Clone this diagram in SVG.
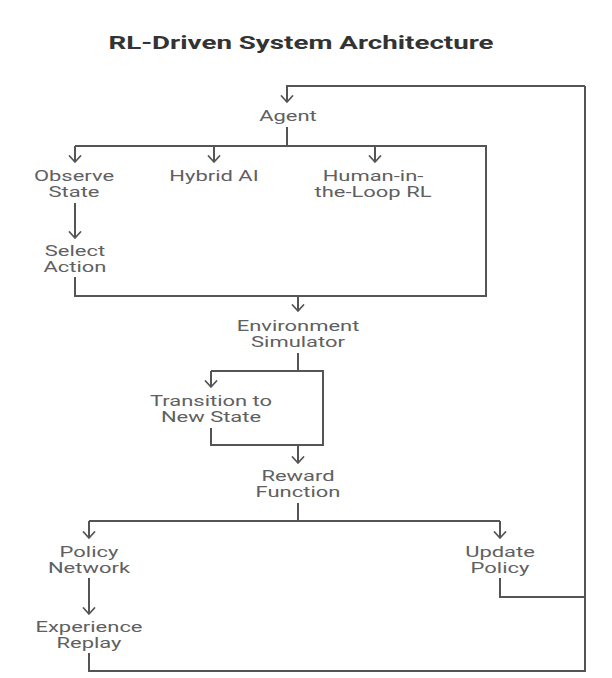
<svg xmlns="http://www.w3.org/2000/svg" width="612" height="678" viewBox="0 0 612 678">
<defs>
<marker id="arr" markerUnits="userSpaceOnUse" viewBox="-8 -7 10 14" refX="0" refY="0" markerWidth="10" markerHeight="14" orient="auto">
<path d="M-6,-5.5 L0,0 L-6,5.5" fill="none" stroke="#555" stroke-width="1.8" stroke-linecap="round" stroke-linejoin="round"/>
</marker>
</defs>
<style>
.t{font-family:Roboto,"Liberation Sans",sans-serif;font-size:14px;fill:#606060;text-anchor:middle}
.ttl{font-family:Roboto,"Liberation Sans",sans-serif;font-size:18px;font-weight:bold;fill:#333;text-anchor:middle}
.c{fill:none;stroke:#555;stroke-width:2}
.a{marker-end:url(#arr)}
</style>
<rect width="612" height="678" fill="#fff"/>
<text class="ttl" transform="translate(301,0) scale(1.54,1)" x="0" y="49">RL-Driven System Architecture</text>
<g id="connectors">
<path class="c a" d="M585,86 H287 V102"/>
<path class="c" d="M287,127 V146"/>
<path class="c" d="M75,146 H486 V296 H75 V277"/>
<path class="c a" d="M75,146 V162"/>
<path class="c a" d="M214,146 V162"/>
<path class="c a" d="M375,146 V162"/>
<path class="c a" d="M75,203 V238"/>
<path class="c a" d="M298,296 V311"/>
<path class="c" d="M298,353 V371"/>
<path class="c" d="M211,371 H323 V445 H211 V428"/>
<path class="c a" d="M211,371 V387"/>
<path class="c a" d="M298,445 V463"/>
<path class="c" d="M298,503 V521"/>
<path class="c" d="M89,521 H500"/>
<path class="c a" d="M89,521 V538"/>
<path class="c a" d="M500,521 V538"/>
<path class="c" d="M500,578 V597 H585"/>
<path class="c a" d="M89,578 V614"/>
<path class="c" d="M89,653 V671 H585 V86"/>
</g>
<g id="agent"><text class="t" transform="translate(288,0) scale(1.57,1)" x="0" y="121">Agent</text></g>
<g id="observe-state"><text class="t" transform="translate(74,0) scale(1.57,1)" x="0" y="181">Observe<tspan x="0" dy="16">State</tspan></text></g>
<g id="hybrid-ai"><text class="t" transform="translate(214,0) scale(1.57,1)" x="0" y="181">Hybrid AI</text></g>
<g id="human-in-the-loop"><text class="t" transform="translate(373,0) scale(1.57,1)" x="0" y="181">Human-in-<tspan x="0" dy="16">the-Loop RL</tspan></text></g>
<g id="select-action"><text class="t" transform="translate(75,0) scale(1.57,1)" x="0" y="256">Select<tspan x="0" dy="16">Action</tspan></text></g>
<g id="environment-simulator"><text class="t" transform="translate(298,0) scale(1.57,1)" x="0" y="331">Environment<tspan x="0" dy="16">Simulator</tspan></text></g>
<g id="transition"><text class="t" transform="translate(211,0) scale(1.57,1)" x="0" y="406">Transition to<tspan x="0" dy="16">New State</tspan></text></g>
<g id="reward-function"><text class="t" transform="translate(298,0) scale(1.57,1)" x="0" y="481">Reward<tspan x="0" dy="16">Function</tspan></text></g>
<g id="policy-network"><text class="t" transform="translate(89,0) scale(1.57,1)" x="0" y="557">Policy<tspan x="0" dy="16">Network</tspan></text></g>
<g id="update-policy"><text class="t" transform="translate(500,0) scale(1.57,1)" x="0" y="557">Update<tspan x="0" dy="16">Policy</tspan></text></g>
<g id="experience-replay"><text class="t" transform="translate(89,0) scale(1.57,1)" x="0" y="632">Experience<tspan x="0" dy="16">Replay</tspan></text></g>
</svg>
